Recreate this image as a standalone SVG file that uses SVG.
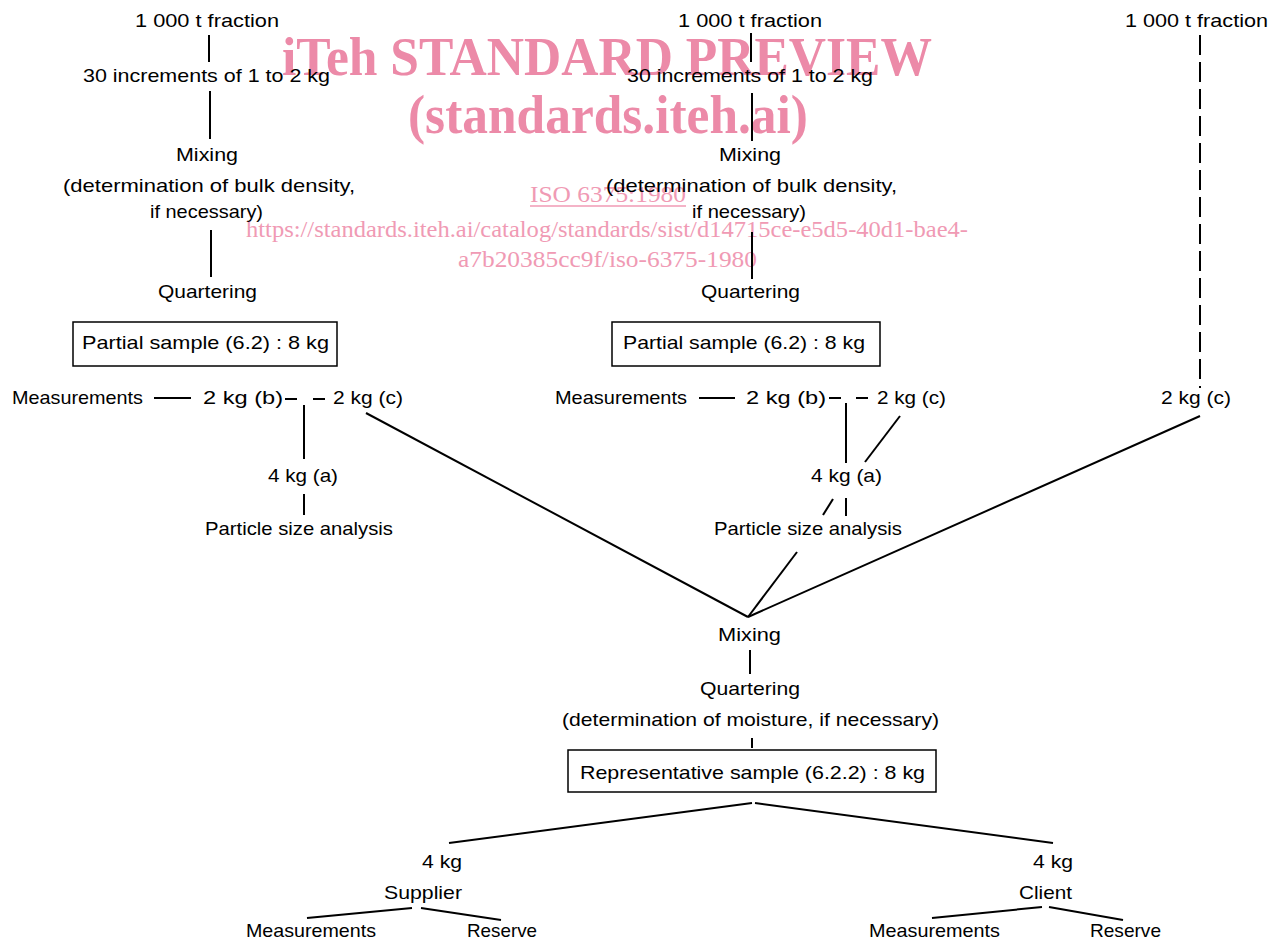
<svg xmlns="http://www.w3.org/2000/svg" width="1285" height="940" viewBox="0 0 1285 940">
<style>
.t{font-family:"Liberation Sans",Arial,sans-serif;font-size:19px;fill:#000}
.wb{font-family:"Liberation Serif","Times New Roman",serif;font-weight:bold;font-size:54px;fill:#ec8aa8}
.wl{font-family:"Liberation Serif","Times New Roman",serif;font-size:24px;fill:#f09ab4}
.c{stroke:#000;stroke-width:2;fill:none;stroke-linecap:butt}
.box{stroke:#000;stroke-width:1.5;fill:none}
</style>
<rect width="1285" height="940" fill="#fff"/>
<g id="watermark">
<text class="wb" x="282" y="75" textLength="650" lengthAdjust="spacingAndGlyphs">iTeh STANDARD PREVIEW</text>
<text class="wb" x="408" y="133" textLength="400" lengthAdjust="spacingAndGlyphs">(standards.iteh.ai)</text>
<text class="wl" x="530" y="202" textLength="156" lengthAdjust="spacingAndGlyphs">ISO 6375:1980</text>
<line x1="530" y1="206" x2="686" y2="206" stroke="#f09ab4" stroke-width="1.5"/>
<text class="wl" x="246" y="237" textLength="722" lengthAdjust="spacingAndGlyphs">https://standards.iteh.ai/catalog/standards/sist/d14715ce-e5d5-40d1-bae4-</text>
<text class="wl" x="458" y="267" textLength="299" lengthAdjust="spacingAndGlyphs">a7b20385cc9f/iso-6375-1980</text>
</g>
<g id="connectors">
<line class="c" x1="209" y1="35" x2="209" y2="62"/>
<line class="c" x1="210" y1="91" x2="210" y2="139"/>
<line class="c" x1="211" y1="230" x2="211" y2="277"/>
<line class="c" x1="154" y1="398" x2="191" y2="398"/>
<line class="c" x1="285" y1="399" x2="297" y2="399"/>
<line class="c" x1="313" y1="399" x2="325" y2="399"/>
<line class="c" x1="304" y1="405" x2="304" y2="459"/>
<line class="c" x1="304" y1="494" x2="304" y2="515"/>
<line class="c" x1="366" y1="413" x2="748" y2="617"/>
<line class="c" x1="751" y1="33" x2="751" y2="62"/>
<line class="c" x1="752" y1="93" x2="752" y2="141"/>
<line class="c" x1="752" y1="232" x2="752" y2="279"/>
<line class="c" x1="699" y1="398" x2="735" y2="398"/>
<line class="c" x1="829" y1="398" x2="841" y2="398"/>
<line class="c" x1="856" y1="398" x2="868" y2="398"/>
<line class="c" x1="846" y1="403" x2="846" y2="463"/>
<line class="c" x1="900" y1="416" x2="865" y2="462"/>
<line class="c" x1="833" y1="499" x2="823" y2="515"/>
<line class="c" x1="846" y1="498" x2="846" y2="516"/>
<line class="c" x1="797" y1="552" x2="748" y2="617"/>
<line class="c" x1="1200" y1="35" x2="1200" y2="388" stroke-dasharray="20 7"/>
<line class="c" x1="1200" y1="416" x2="748" y2="617"/>
<line class="c" x1="750" y1="650" x2="750" y2="674"/>
<line class="c" x1="752" y1="738" x2="752" y2="748"/>
<line class="c" x1="752" y1="803" x2="449" y2="843"/>
<line class="c" x1="755" y1="803" x2="1053" y2="843"/>
<line class="c" x1="412" y1="908" x2="307" y2="918"/>
<line class="c" x1="421" y1="908" x2="501" y2="920"/>
<line class="c" x1="1042" y1="907" x2="932" y2="918"/>
<line class="c" x1="1049" y1="907" x2="1123" y2="920"/>
</g>
<g id="left-column">
<text class="t" x="135" y="27" textLength="144" lengthAdjust="spacingAndGlyphs">1 000 t fraction</text>
<text class="t" x="83" y="82" textLength="247" lengthAdjust="spacingAndGlyphs">30 increments of 1 to 2 kg</text>
<text class="t" x="176" y="161" textLength="62" lengthAdjust="spacingAndGlyphs">Mixing</text>
<text class="t" x="63" y="192" textLength="292" lengthAdjust="spacingAndGlyphs">(determination of bulk density,</text>
<text class="t" x="150" y="218" textLength="113" lengthAdjust="spacingAndGlyphs">if necessary)</text>
<text class="t" x="158" y="298" textLength="99" lengthAdjust="spacingAndGlyphs">Quartering</text>
</g>
<g id="left-partial">
<rect class="box" x="73" y="322" width="264" height="44"/>
<text class="t" x="82" y="349" textLength="247" lengthAdjust="spacingAndGlyphs">Partial sample (6.2) : 8 kg</text>
</g>
<g id="left-split">
<text class="t" x="12" y="404" textLength="131" lengthAdjust="spacingAndGlyphs">Measurements</text>
<text class="t" x="203" y="404" textLength="80" lengthAdjust="spacingAndGlyphs">2 kg (b)</text>
<text class="t" x="333" y="404" textLength="70" lengthAdjust="spacingAndGlyphs">2 kg (c)</text>
<text class="t" x="268" y="482" textLength="70" lengthAdjust="spacingAndGlyphs">4 kg (a)</text>
<text class="t" x="205" y="535" textLength="188" lengthAdjust="spacingAndGlyphs">Particle size analysis</text>
</g>
<g id="middle-column">
<text class="t" x="678" y="27" textLength="144" lengthAdjust="spacingAndGlyphs">1 000 t fraction</text>
<text class="t" x="627" y="82" textLength="246" lengthAdjust="spacingAndGlyphs">30 increments of 1 to 2 kg</text>
<text class="t" x="719" y="161" textLength="62" lengthAdjust="spacingAndGlyphs">Mixing</text>
<text class="t" x="606" y="192" textLength="291" lengthAdjust="spacingAndGlyphs">(determination of bulk density,</text>
<text class="t" x="692" y="218" textLength="114" lengthAdjust="spacingAndGlyphs">if necessary)</text>
<text class="t" x="701" y="298" textLength="99" lengthAdjust="spacingAndGlyphs">Quartering</text>
</g>
<g id="middle-partial">
<rect class="box" x="612" y="322" width="268" height="44"/>
<text class="t" x="623" y="349" textLength="242" lengthAdjust="spacingAndGlyphs">Partial sample (6.2) : 8 kg</text>
</g>
<g id="middle-split">
<text class="t" x="555" y="404" textLength="132" lengthAdjust="spacingAndGlyphs">Measurements</text>
<text class="t" x="746" y="404" textLength="80" lengthAdjust="spacingAndGlyphs">2 kg (b)</text>
<text class="t" x="877" y="404" textLength="69" lengthAdjust="spacingAndGlyphs">2 kg (c)</text>
<text class="t" x="811" y="482" textLength="71" lengthAdjust="spacingAndGlyphs">4 kg (a)</text>
<text class="t" x="714" y="535" textLength="188" lengthAdjust="spacingAndGlyphs">Particle size analysis</text>
</g>
<g id="right-column">
<text class="t" x="1125" y="27" textLength="143" lengthAdjust="spacingAndGlyphs">1 000 t fraction</text>
<text class="t" x="1161" y="404" textLength="70" lengthAdjust="spacingAndGlyphs">2 kg (c)</text>
</g>
<g id="final-mixing">
<text class="t" x="718" y="641" textLength="63" lengthAdjust="spacingAndGlyphs">Mixing</text>
<text class="t" x="700" y="695" textLength="100" lengthAdjust="spacingAndGlyphs">Quartering</text>
<text class="t" x="562" y="726" textLength="377" lengthAdjust="spacingAndGlyphs">(determination of moisture, if necessary)</text>
</g>
<g id="representative">
<rect class="box" x="568" y="750" width="368" height="42"/>
<text class="t" x="580" y="779" textLength="345" lengthAdjust="spacingAndGlyphs">Representative sample (6.2.2) : 8 kg</text>
</g>
<g id="supplier">
<text class="t" x="422" y="868" textLength="40" lengthAdjust="spacingAndGlyphs">4 kg</text>
<text class="t" x="384" y="899" textLength="78" lengthAdjust="spacingAndGlyphs">Supplier</text>
<text class="t" x="246" y="937" textLength="130" lengthAdjust="spacingAndGlyphs">Measurements</text>
<text class="t" x="467" y="937" textLength="70" lengthAdjust="spacingAndGlyphs">Reserve</text>
</g>
<g id="client">
<text class="t" x="1033" y="868" textLength="40" lengthAdjust="spacingAndGlyphs">4 kg</text>
<text class="t" x="1019" y="899" textLength="53" lengthAdjust="spacingAndGlyphs">Client</text>
<text class="t" x="869" y="937" textLength="131" lengthAdjust="spacingAndGlyphs">Measurements</text>
<text class="t" x="1090" y="937" textLength="71" lengthAdjust="spacingAndGlyphs">Reserve</text>
</g>
</svg>
